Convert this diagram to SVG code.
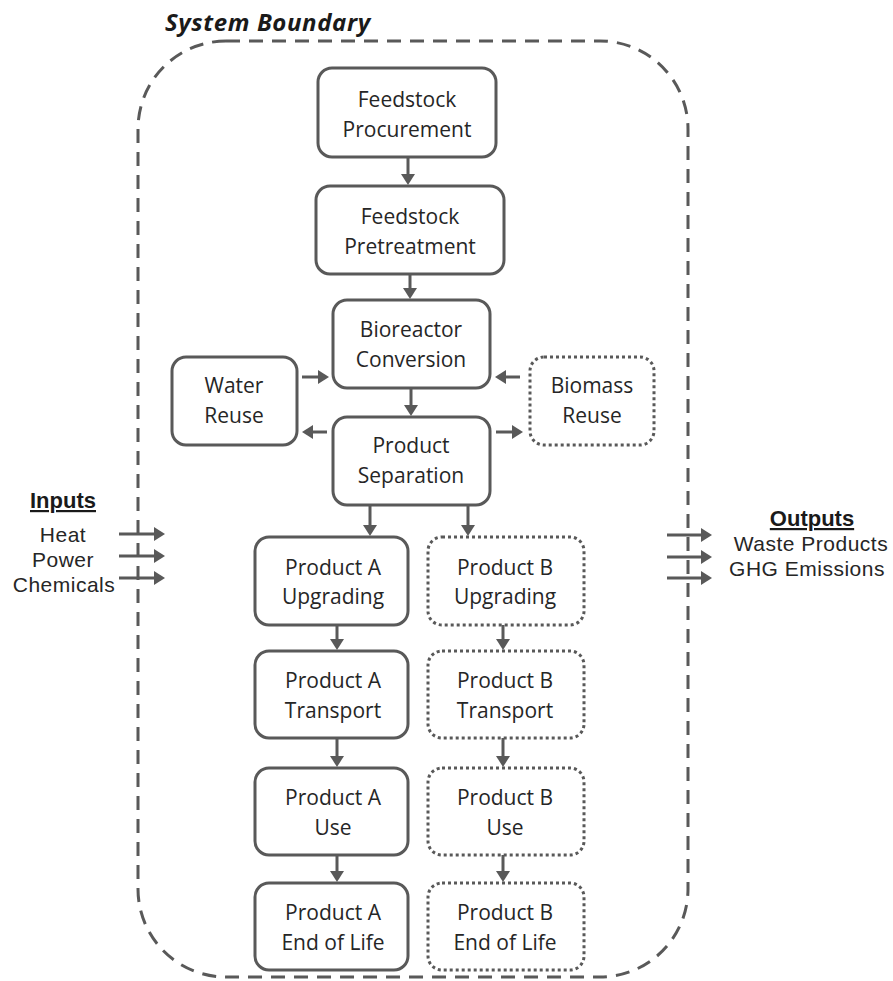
<svg xmlns="http://www.w3.org/2000/svg" width="893" height="981" viewBox="0 0 893 981">
  <style>
    .box { fill: #ffffff; stroke: #595959; stroke-width: 3; }
    .opt { fill: #ffffff; stroke: #595959; stroke-width: 3; stroke-dasharray: 3 3; }
    .lbl { font-family: "Open Sans", "Liberation Sans", sans-serif; font-size: 21px; fill: #262626; text-anchor: middle; }
    .side { font-family: "Liberation Sans", Arial, sans-serif; font-size: 21px; letter-spacing: 0.5px; fill: #262626; text-anchor: middle; }
    .hdr { font-family: "Liberation Sans", Arial, sans-serif; font-size: 22px; font-weight: bold; fill: #1a1a1a; text-anchor: middle; text-decoration: underline; }
    .title { font-family: "Open Sans", "Liberation Sans", sans-serif; font-size: 24px; letter-spacing: 0.6px; font-weight: bold; font-style: italic; fill: #1a1a1a; }
    .link { stroke: #595959; stroke-width: 3; fill: none; marker-end: url(#head); }
    .bound { fill: none; stroke: #595959; stroke-width: 3; stroke-dasharray: 14 9; }
  </style>
  <defs>
    <marker id="head" viewBox="0 0 11 14" refX="2" refY="7" markerWidth="11" markerHeight="14" markerUnits="userSpaceOnUse" orient="auto">
      <path d="M0,0 L11,7 L0,14 z" fill="#595959"/>
    </marker>
  </defs>

  <rect width="893" height="981" fill="#ffffff"/>

  <!-- system boundary -->
  <g id="boundary">
    <rect class="bound" x="138" y="41" width="550" height="936" rx="88" ry="88"/>
    <text class="title" x="165" y="31">System Boundary</text>
  </g>

  <!-- inputs / outputs -->
  <g id="inputs">
    <text class="hdr" x="63" y="508">Inputs</text>
    <text class="side" x="63" y="542">Heat</text>
    <text class="side" x="63" y="567">Power</text>
    <text class="side" x="64" y="592">Chemicals</text>
  </g>
  <g id="outputs">
    <text class="hdr" x="812" y="526">Outputs</text>
    <text class="side" x="811" y="551">Waste Products</text>
    <text class="side" x="807" y="576">GHG Emissions</text>
  </g>

  <!-- process steps -->
  <g id="procurement">
    <rect class="box" x="318" y="68" width="178" height="89" rx="14"/>
    <text class="lbl" x="407" y="107">Feedstock</text>
    <text class="lbl" x="407" y="137">Procurement</text>
  </g>
  <g id="pretreatment">
    <rect class="box" x="316" y="186" width="188" height="88" rx="14"/>
    <text class="lbl" x="410" y="224">Feedstock</text>
    <text class="lbl" x="410" y="254">Pretreatment</text>
  </g>
  <g id="bioreactor">
    <rect class="box" x="333" y="300" width="157" height="88" rx="14"/>
    <text class="lbl" x="411" y="337">Bioreactor</text>
    <text class="lbl" x="411" y="367">Conversion</text>
  </g>
  <g id="water-reuse">
    <rect class="box" x="172" y="357" width="125" height="88" rx="14"/>
    <text class="lbl" x="234" y="393">Water</text>
    <text class="lbl" x="234" y="423">Reuse</text>
  </g>
  <g id="biomass-reuse">
    <rect class="opt" x="530" y="357" width="124" height="88" rx="14"/>
    <text class="lbl" x="592" y="393">Biomass</text>
    <text class="lbl" x="592" y="423">Reuse</text>
  </g>
  <g id="separation">
    <rect class="box" x="333" y="417" width="157" height="88" rx="14"/>
    <text class="lbl" x="411" y="453">Product</text>
    <text class="lbl" x="411" y="483">Separation</text>
  </g>

  <g id="a-upgrading">
    <rect class="box" x="255" y="537" width="153" height="88" rx="14"/>
    <text class="lbl" x="333" y="575">Product A</text>
    <text class="lbl" x="333" y="604">Upgrading</text>
  </g>
  <g id="a-transport">
    <rect class="box" x="255" y="651" width="153" height="87" rx="14"/>
    <text class="lbl" x="333" y="688">Product A</text>
    <text class="lbl" x="333" y="718">Transport</text>
  </g>
  <g id="a-use">
    <rect class="box" x="255" y="768" width="153" height="87" rx="14"/>
    <text class="lbl" x="333" y="805">Product A</text>
    <text class="lbl" x="333" y="835">Use</text>
  </g>
  <g id="a-eol">
    <rect class="box" x="255" y="883" width="153" height="87" rx="14"/>
    <text class="lbl" x="333" y="920">Product A</text>
    <text class="lbl" x="333" y="950">End of Life</text>
  </g>

  <g id="b-upgrading">
    <rect class="opt" x="428" y="537" width="156" height="88" rx="14"/>
    <text class="lbl" x="505" y="575">Product B</text>
    <text class="lbl" x="505" y="604">Upgrading</text>
  </g>
  <g id="b-transport">
    <rect class="opt" x="428" y="651" width="156" height="87" rx="14"/>
    <text class="lbl" x="505" y="688">Product B</text>
    <text class="lbl" x="505" y="718">Transport</text>
  </g>
  <g id="b-use">
    <rect class="opt" x="428" y="768" width="156" height="87" rx="14"/>
    <text class="lbl" x="505" y="805">Product B</text>
    <text class="lbl" x="505" y="835">Use</text>
  </g>
  <g id="b-eol">
    <rect class="opt" x="428" y="883" width="156" height="87" rx="14"/>
    <text class="lbl" x="505" y="920">Product B</text>
    <text class="lbl" x="505" y="950">End of Life</text>
  </g>

  <!-- connectors -->
  <g id="connectors">
    <line class="link" x1="408" y1="157" x2="408" y2="176"/>
    <line class="link" x1="410" y1="274" x2="410" y2="290"/>
    <line class="link" x1="411" y1="388" x2="411" y2="407"/>
    <line class="link" x1="302" y1="377" x2="320" y2="377"/>
    <line class="link" x1="520" y1="377" x2="504" y2="377"/>
    <line class="link" x1="327" y1="432" x2="311" y2="432"/>
    <line class="link" x1="496" y1="432" x2="514" y2="432"/>
    <line class="link" x1="370" y1="505" x2="370" y2="527"/>
    <line class="link" x1="468" y1="505" x2="468" y2="527"/>
    <line class="link" x1="337" y1="625" x2="337" y2="641"/>
    <line class="link" x1="337" y1="738" x2="337" y2="758"/>
    <line class="link" x1="337" y1="855" x2="337" y2="873"/>
    <line class="link" x1="503" y1="625" x2="503" y2="641"/>
    <line class="link" x1="503" y1="738" x2="503" y2="758"/>
    <line class="link" x1="503" y1="855" x2="503" y2="873"/>
    <line class="link" x1="119" y1="534" x2="156" y2="534"/>
    <line class="link" x1="119" y1="556" x2="156" y2="556"/>
    <line class="link" x1="119" y1="578" x2="156" y2="578"/>
    <line class="link" x1="667" y1="535" x2="703" y2="535"/>
    <line class="link" x1="667" y1="557" x2="703" y2="557"/>
    <line class="link" x1="667" y1="578" x2="703" y2="578"/>
  </g>
</svg>
